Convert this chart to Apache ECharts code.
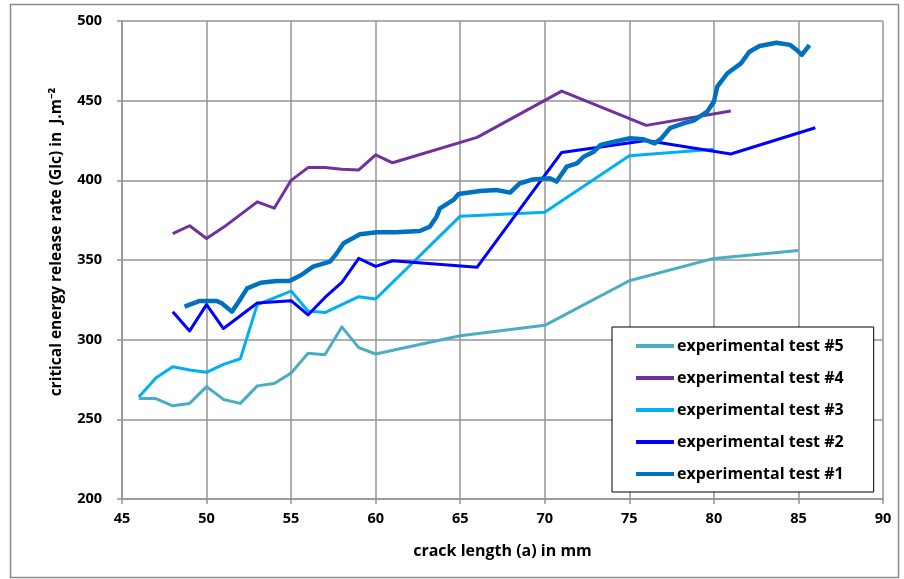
<!DOCTYPE html>
<html>
<head>
<meta charset="utf-8">
<script src="https://cdn.jsdelivr.net/npm/echarts@6/dist/echarts.min.js"></script>
<style>
html,body{margin:0;padding:0;background:#fff;}
#c{width:904px;height:579px;}
</style>
</head>
<body>
<div id="c"></div>
<script>
const seriesNames = ['experimental test #5','experimental test #4','experimental test #3','experimental test #2','experimental test #1'];
const xTicks = [45,50,55,60,65,70,75,80,85,90];
const yTicks = [200,250,300,350,400,450,500];

const test5 = [[46,263],[47,263],[48,258.5],[49,260],[50,270.5],[51,262.5],[52,260],[53,271],[54,272.5],[55,279],[56,291.5],[57,290.5],[58,308],[59,295],[60,291],[65,302.5],[70,309],[75,337],[80,351],[85,356]];
const test4 = [[48,366.5],[49,371.5],[50,363.5],[51,370.5],[53,386.5],[54,382.5],[55,400],[56,408],[57,408],[58,407],[59,406.5],[60,416],[61,411],[66,427],[71,456],[76,434.5],[81,443.5]];
const test3 = [[46,264],[47,276],[48,283],[49,281],[50,279.5],[51,284.5],[52,288],[53,322],[55,330.5],[56,318],[57,317],[59,327],[60,325.5],[65,377.5],[70,380],[75,415.5],[80,419.5]];
const test2 = [[48,317.5],[49,305.5],[50,322],[51,307],[53,323],[55,324.5],[56,315.5],[57,326.5],[58,336],[59,351],[60,346],[61,349.5],[66,345.5],[71,417.5],[76,425],[81,416.5],[86,433]];
const test1 = [[48.7,320.7],[49.6,324.3],[50.6,324.3],[50.9,322.8],[51.5,317.6],[51.9,323.8],[52.4,332.2],[53.2,335.7],[54.15,336.8],[54.9,336.8],[55.6,340.6],[56.3,345.8],[57.3,349],[57.7,354.2],[58.1,360.5],[59.07,366.1],[60.06,367.4],[61.2,367.4],[62.6,368.2],[63.2,370.9],[63.6,377.2],[63.8,382.4],[64.6,387.7],[64.9,391.4],[66.17,393.3],[67.15,393.9],[67.95,392.3],[68.5,398],[69.3,400.6],[70.3,401.3],[70.7,399.2],[71.3,408.6],[71.9,410.7],[72.3,414.8],[72.9,418],[73.3,422.2],[74.1,424.3],[75.04,426.4],[75.8,425.8],[76.5,423.2],[76.9,426.4],[77.4,432.7],[78.2,435.8],[78.8,437.5],[79.6,443.1],[80.0,449.4],[80.2,458.8],[80.8,467.2],[81.6,473.4],[82.1,480.7],[82.7,484.3],[83.7,486.4],[84.5,485],[84.9,481.8],[85.2,478.7],[85.65,484.9]];

const colors = ['#4BACC6','#7030A0','#00B0F0','#0000FF','#0070C0'];
const dataList = [test5,test4,test3,test2,test1];
const widths = [3,3,3,3,4.5];

const font = '"Open Sans", "Noto Sans", sans-serif';
const gridColor = '#959595';

const chart = echarts.init(document.getElementById('c'), null, {renderer:'canvas'});
chart.setOption({
  animation:false,
  backgroundColor:'#fff',
  textStyle:{fontFamily:font},
  graphic:[{type:'rect',left:8,top:2,shape:{width:888,height:573},style:{fill:'none',stroke:'#8c8c8c',lineWidth:1.5},z:-1}],
  grid:{left:122,right:21,top:21,bottom:80},
  legend:{
    orient:'vertical',
    left:612, top:327,
    data:seriesNames,
    icon:'rect',
    itemWidth:38, itemHeight:4,
    itemGap:16,
    padding:[11,30,10,24],
    borderColor:'#000', borderWidth:1,
    backgroundColor:'#fff',
    textStyle:{fontFamily:font,fontWeight:'bold',fontSize:16,color:'#000',padding:[0,0,0,-2]}
  },
  xAxis:{
    type:'value', min:45, max:90, interval:5,
    name:'crack length (a) in mm', nameLocation:'middle', nameGap:44,
    nameTextStyle:{fontFamily:font,fontWeight:'bold',fontSize:16,color:'#000'},
    axisLine:{show:true,lineStyle:{color:gridColor,width:1.5}},
    axisTick:{show:true,length:5,lineStyle:{color:gridColor,width:1.5}},
    axisLabel:{fontFamily:font,fontWeight:'bold',fontSize:14.5,color:'#000',margin:12,
      formatter:v=>xTicks.indexOf(v)>=0?String(v):''},
    splitLine:{show:true,lineStyle:{color:gridColor,width:1.5}}
  },
  yAxis:{
    type:'value', min:200, max:500, interval:50,
    name:'critical energy release rate (Glc) in  J.m⁻²', nameLocation:'middle', nameGap:57,
    nameTextStyle:{fontFamily:font,fontWeight:'bold',fontSize:15.5,color:'#000',padding:[0,0,0,36]},
    axisLine:{show:true,lineStyle:{color:gridColor,width:1.5}},
    axisTick:{show:true,length:5,lineStyle:{color:gridColor,width:1.5}},
    axisLabel:{fontFamily:font,fontWeight:'bold',fontSize:14.5,color:'#000',margin:20,
      formatter:v=>yTicks.indexOf(v)>=0?String(v):''},
    splitLine:{show:true,lineStyle:{color:gridColor,width:1.5}}
  },
  series: seriesNames.map((n,i)=>({
    name:n, type:'line', data:dataList[i], symbol:'none', smooth:false,
    itemStyle:{color:colors[i]},
    lineStyle:{color:colors[i],width:widths[i],join:'round'}
  }))
});
</script>
</body>
</html>
